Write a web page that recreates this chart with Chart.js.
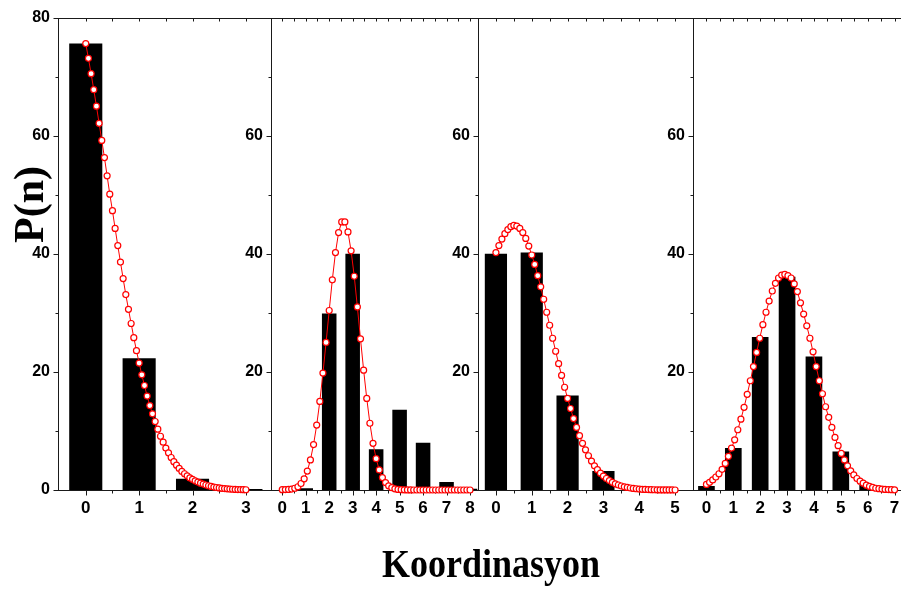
<!DOCTYPE html>
<html>
<head>
<meta charset="utf-8">
<script src="https://cdn.jsdelivr.net/npm/chart.js@4/dist/chart.umd.min.js"></script>
<style>
  html, body { margin: 0; padding: 0; background: #fff; }
  #wrap { position: relative; width: 901px; height: 593px; overflow: hidden; background: #fff; }
  #wrap canvas { position: absolute; left: 0; top: 0; }
</style>
</head>
<body>
<div id="wrap">
  <canvas id="p1" width="940" height="593"></canvas>
  <canvas id="p2" width="940" height="593"></canvas>
  <canvas id="p3" width="940" height="593"></canvas>
  <canvas id="p4" width="940" height="593"></canvas>
</div>
<script>
// ---- Histogram bars (coordination number n, P(n) in %) ----
const barX1 = [0, 1, 2, 3];
const barY1 = [75.6, 22.3, 1.9, 0.15];

const barX2 = [0, 1, 2, 3, 4, 5, 6, 7, 8];
const barY2 = [0, 0.3, 29.9, 40.0, 6.9, 13.6, 8.0, 1.35, 0.2];

const barX3 = [0, 1, 2, 3, 4, 5];
const barY3 = [40.0, 40.2, 16.0, 3.2, 0, 0];

const barX4 = [0, 1, 2, 3, 4, 5, 6, 7];
const barY4 = [0.67, 7.1, 25.9, 36.1, 22.6, 6.5, 0.85, 0];

// ---- Fitted distribution curves ----
const fitX1 = [0, 0.05, 0.1, 0.15, 0.2, 0.25, 0.3, 0.35, 0.4, 0.45, 0.5, 0.55, 0.6, 0.65, 0.7, 0.75, 0.8, 0.85, 0.9, 0.95,
  1, 1.05, 1.1, 1.15, 1.2, 1.25, 1.3, 1.35, 1.4, 1.45, 1.5, 1.55, 1.6, 1.65, 1.7, 1.75, 1.8, 1.85, 1.9, 1.95,
  2, 2.05, 2.1, 2.15, 2.2, 2.25, 2.3, 2.35, 2.4, 2.45, 2.5, 2.55, 2.6, 2.65, 2.7, 2.75, 2.8, 2.85, 2.9, 2.95, 3];
const fitY1 = [75.6, 73.1, 70.5, 67.8, 65.0, 62.1, 59.2, 56.3, 53.2, 50.1, 47.3, 44.3, 41.4, 38.6, 35.8, 33.1, 30.6, 28.2, 25.8, 23.6,
  21.5, 19.5, 17.7, 15.9, 14.3, 12.9, 11.6, 10.3, 9.1, 8.1, 7.1, 6.3, 5.5, 4.8, 4.2, 3.65, 3.15, 2.75, 2.4, 2.05,
  1.8, 1.55, 1.35, 1.15, 1.0, 0.85, 0.72, 0.6, 0.5, 0.42, 0.35, 0.29, 0.24, 0.2, 0.16, 0.13, 0.1, 0.08, 0.07, 0.05, 0.04];

const fitX2 = [0, 0.133, 0.267, 0.4, 0.533, 0.667, 0.8, 0.933, 1.067, 1.2, 1.333, 1.467, 1.6, 1.733, 1.867,
  2, 2.133, 2.267, 2.4, 2.533, 2.667, 2.8, 2.933, 3.067, 3.2, 3.333, 3.467, 3.6, 3.733, 3.867,
  4, 4.133, 4.267, 4.4, 4.533, 4.667, 4.8, 4.933, 5.067, 5.2, 5.333, 5.467, 5.6, 5.733, 5.867,
  6, 6.133, 6.267, 6.4, 6.533, 6.667, 6.8, 6.933, 7.067, 7.2, 7.333, 7.467, 7.6, 7.733, 7.867, 8];
const fitY2 = [0.05, 0.07, 0.1, 0.15, 0.3, 0.55, 1.1, 1.9, 3.2, 5.1, 7.7, 11.0, 15.0, 19.8, 25.0,
  30.4, 35.6, 40.2, 43.6, 45.4, 45.4, 43.7, 40.5, 36.2, 31.0, 25.6, 20.3, 15.5, 11.3, 7.9,
  5.3, 3.4, 2.1, 1.25, 0.7, 0.4, 0.2, 0.1, 0.05, 0.03, 0.02, 0.01, 0, 0, 0,
  0, 0, 0, 0, 0, 0, 0, 0, 0, 0, 0, 0, 0, 0, 0, 0];

const fitX3 = [0, 0.083, 0.167, 0.25, 0.333, 0.417, 0.5, 0.583, 0.667, 0.75, 0.833, 0.917,
  1, 1.083, 1.167, 1.25, 1.333, 1.417, 1.5, 1.583, 1.667, 1.75, 1.833, 1.917,
  2, 2.083, 2.167, 2.25, 2.333, 2.417, 2.5, 2.583, 2.667, 2.75, 2.833, 2.917,
  3, 3.083, 3.167, 3.25, 3.333, 3.417, 3.5, 3.583, 3.667, 3.75, 3.833, 3.917,
  4, 4.083, 4.167, 4.25, 4.333, 4.417, 4.5, 4.583, 4.667, 4.75, 4.833, 4.917, 5];
const fitY3 = [40.2, 41.4, 42.5, 43.4, 44.1, 44.6, 44.8, 44.7, 44.3, 43.6, 42.6, 41.3,
  39.8, 38.2, 36.3, 34.4, 32.3, 30.1, 27.9, 25.7, 23.5, 21.4, 19.4, 17.4,
  15.5, 13.8, 12.1, 10.6, 9.2, 7.9, 6.8, 5.8, 4.9, 4.1, 3.45, 2.85,
  2.35, 1.95, 1.6, 1.3, 1.05, 0.85, 0.68, 0.54, 0.43, 0.34, 0.27, 0.21,
  0.16, 0.12, 0.09, 0.07, 0.05, 0.04, 0.03, 0.02, 0.02, 0.01, 0.01, 0.01, 0];

const fitX4 = [0, 0.117, 0.233, 0.35, 0.467, 0.583, 0.7, 0.817, 0.933, 1.05, 1.167, 1.283, 1.4, 1.517, 1.633,
  1.75, 1.867, 1.983, 2.1, 2.217, 2.333, 2.45, 2.567, 2.683, 2.8, 2.917, 3.033, 3.15, 3.267, 3.383,
  3.5, 3.617, 3.733, 3.85, 3.967, 4.083, 4.2, 4.317, 4.433, 4.55, 4.667, 4.783, 4.9, 5.017, 5.133,
  5.25, 5.367, 5.483, 5.6, 5.717, 5.833, 5.95, 6.067, 6.183, 6.3, 6.417, 6.533, 6.65, 6.767, 6.883, 7];
const fitY4 = [0.95, 1.3, 1.7, 2.2, 2.75, 3.5, 4.5, 5.7, 7.1, 8.5, 10.2, 12.0, 14.0, 16.2, 18.5,
  20.9, 23.3, 25.7, 28.0, 30.1, 32.0, 33.7, 35.0, 35.9, 36.4, 36.5, 36.3, 35.9, 34.9, 33.6,
  31.7, 29.8, 27.8, 25.7, 23.4, 20.9, 18.5, 16.3, 14.1, 12.3, 10.6, 8.9, 7.5, 6.2, 5.1,
  4.1, 3.25, 2.55, 1.95, 1.5, 1.15, 0.82, 0.6, 0.43, 0.3, 0.22, 0.15, 0.1, 0.07, 0.05, 0.03];

// ---- Tick labels ----
const xTicks1 = [0, 1, 2, 3];
const xTicks2 = [0, 1, 2, 3, 4, 5, 6, 7, 8];
const xTicks3 = [0, 1, 2, 3, 4, 5];
const xTicks4 = [0, 1, 2, 3, 4, 5, 6, 7];
const yTicksFirst = [0, 20, 40, 60, 80];
const yTicksInner = [20, 40, 60];

const X_TITLE = 'Koordinasyon';
const Y_TITLE = 'P(n)';

// ---- Layout (pixels) ----
const CW = 940, CH = 593;
const PLOT_TOP = 15, PLOT_BOTTOM = 490;
const Y_AXIS_W = 40, X_AXIS_H = 40;
const Y_MAX = 80, Y_MINOR = 10, X_MINOR = 0.5;

const FONT_FAMILY = '"Liberation Sans", Arial, Helvetica, sans-serif';
const X_LABEL_FONT = { family: FONT_FAMILY, size: 17, weight: 'bold' };
const Y_LABEL_FONT = { family: FONT_FAMILY, size: 16, weight: 'bold' };
const AXIS_COLOR = '#1a1a1a';
const FIT_COLOR = '#ff0000';

const panels = [
  { id: 'p1', left: 58,  right: 271, xMin: -0.52, xMax: 3.47, barX: barX1, barY: barY1, fitX: fitX1, fitY: fitY1, xTicks: xTicks1, yTicks: yTicksFirst },
  { id: 'p2', left: 271, right: 478, xMin: -0.48, xMax: 8.34, barX: barX2, barY: barY2, fitX: fitX2, fitY: fitY2, xTicks: xTicks2, yTicks: yTicksInner },
  { id: 'p3', left: 478, right: 693, xMin: -0.5,  xMax: 5.5,  barX: barX3, barY: barY3, fitX: fitX3, fitY: fitY3, xTicks: xTicks3, yTicks: yTicksInner },
  { id: 'p4', left: 693, right: 908, xMin: -0.5,  xMax: 7.5,  barX: barX4, barY: barY4, fitX: fitX4, fitY: fitY4, xTicks: xTicks4, yTicks: yTicksInner }
];

// Axis frame: left axis, bottom axis, top border, with major/minor tick marks
const framePlugin = {
  id: 'frame',
  beforeDatasetsDraw(chart) {
    const { ctx, chartArea: a, scales: { x, y } } = chart;
    const L = Math.round(a.left) + 0.5;
    const T = Math.round(a.top) + 0.5;
    const B = Math.round(a.bottom) + 0.5;
    ctx.save();
    ctx.strokeStyle = AXIS_COLOR;
    ctx.lineWidth = 1;
    ctx.beginPath();
    ctx.moveTo(L, T); ctx.lineTo(L, B);
    ctx.moveTo(a.left, B); ctx.lineTo(a.right, B);
    ctx.moveTo(a.left, T); ctx.lineTo(a.right, T);
    for (let v = 0; v <= Y_MAX + 1e-9; v += Y_MINOR) {
      const py = Math.round(y.getPixelForValue(v)) + 0.5;
      const len = (Math.round(v) % 20 === 0) ? 5 : 3;
      ctx.moveTo(L - len, py); ctx.lineTo(L, py);
    }
    const start = Math.ceil(x.min / X_MINOR) * X_MINOR;
    for (let v = start; v <= x.max + 1e-9; v += X_MINOR) {
      const px = Math.round(x.getPixelForValue(v)) + 0.5;
      if (px <= L + 1 || px >= a.right) continue;
      const major = Math.abs(v - Math.round(v)) < 1e-6;
      ctx.moveTo(px, B); ctx.lineTo(px, B + (major ? 5 : 3));
      ctx.moveTo(px, T); ctx.lineTo(px, T + 3);
    }
    ctx.stroke();
    ctx.restore();
  }
};

// Axis titles
const titlePlugin = {
  id: 'titles',
  afterDraw(chart) {
    const ctx = chart.ctx;
    ctx.save();
    ctx.fillStyle = '#000';
    ctx.font = 'bold 40px "Liberation Serif", "Times New Roman", serif';
    ctx.textAlign = 'center';
    ctx.textBaseline = 'alphabetic';
    ctx.translate(491, 577);
    ctx.scale(0.9, 1);
    ctx.fillText(X_TITLE, 0, 0);
    ctx.restore();

    ctx.save();
    ctx.fillStyle = '#000';
    ctx.font = 'bold 42px "Liberation Serif", "Times New Roman", serif';
    ctx.textAlign = 'center';
    ctx.textBaseline = 'alphabetic';
    ctx.translate(43, 204.5);
    ctx.rotate(-Math.PI / 2);
    ctx.fillText(Y_TITLE, 0, 0);
    ctx.restore();
  }
};

panels.forEach((p, i) => {
  const plugins = [framePlugin];
  if (i === 0) plugins.push(titlePlugin);
  new Chart(document.getElementById(p.id), {
    type: 'bar',
    data: {
      datasets: [
        {
          type: 'line',
          order: 0,
          data: p.fitX.map((xv, k) => ({ x: xv, y: p.fitY[k] })),
          borderColor: FIT_COLOR,
          borderWidth: 1,
          pointRadius: 3,
          pointBorderWidth: 1.2,
          pointBackgroundColor: '#ffffff',
          pointBorderColor: FIT_COLOR,
          tension: 0,
          clip: false
        },
        {
          type: 'bar',
          order: 1,
          data: p.barX.map((xv, k) => ({ x: xv, y: p.barY[k] })),
          backgroundColor: '#000000',
          borderWidth: 0,
          barPercentage: 1,
          categoryPercentage: 0.62
        }
      ]
    },
    options: {
      responsive: false,
      animation: false,
      devicePixelRatio: 1,
      layout: {
        padding: {
          left: p.left - Y_AXIS_W,
          right: CW - p.right,
          top: PLOT_TOP,
          bottom: CH - PLOT_BOTTOM - X_AXIS_H
        }
      },
      plugins: { legend: { display: false }, tooltip: { enabled: false } },
      scales: {
        x: {
          type: 'linear',
          offset: false,
          min: p.xMin,
          max: p.xMax,
          afterFit: s => { s.height = X_AXIS_H; },
          afterBuildTicks: s => { s.ticks = p.xTicks.map(v => ({ value: v })); },
          grid: { display: false, drawTicks: false },
          border: { display: false },
          ticks: { padding: 8, autoSkip: false, maxRotation: 0, color: '#000', font: X_LABEL_FONT }
        },
        y: {
          type: 'linear',
          min: 0,
          max: Y_MAX,
          afterFit: s => { s.width = Y_AXIS_W; },
          afterBuildTicks: s => { s.ticks = p.yTicks.map(v => ({ value: v })); },
          grid: { display: false, drawTicks: false },
          border: { display: false },
          ticks: { padding: 8, color: '#000', font: Y_LABEL_FONT }
        }
      }
    },
    plugins: plugins
  });
});
</script>
</body>
</html>
